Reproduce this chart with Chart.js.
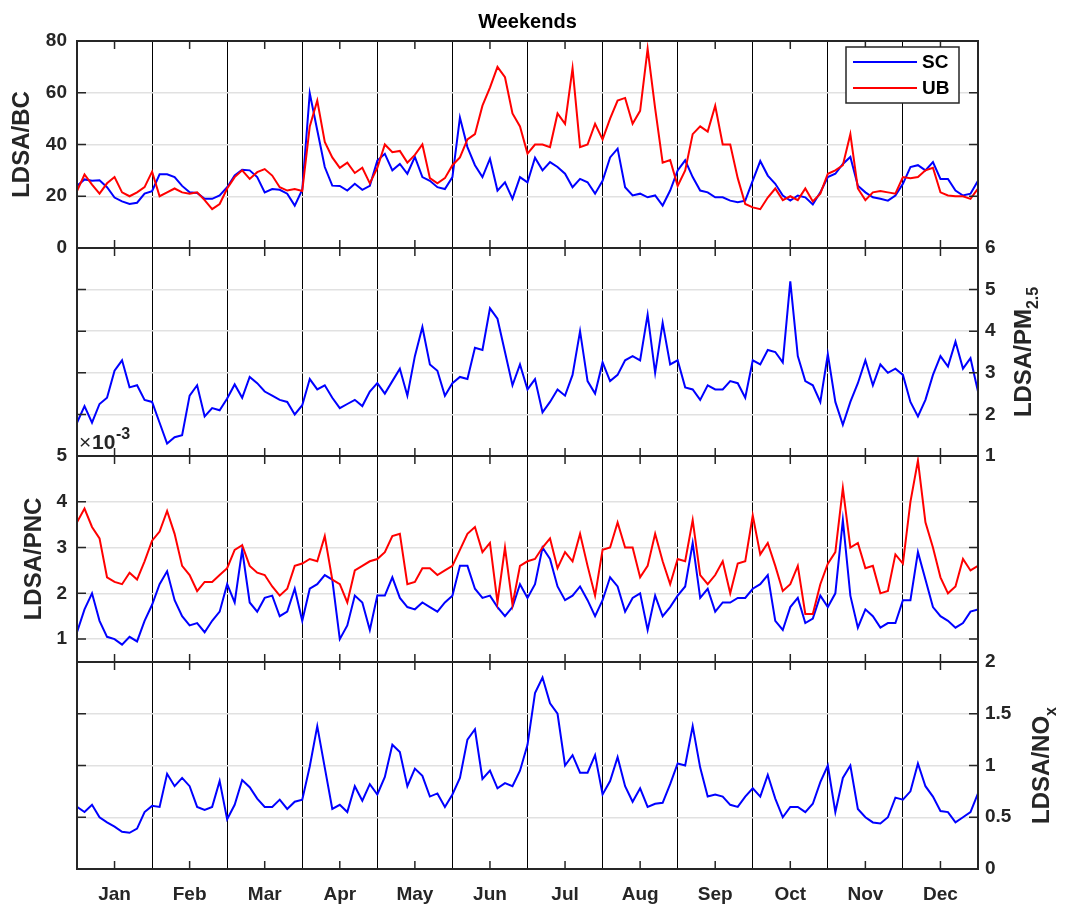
<!DOCTYPE html>
<html>
<head>
<meta charset="utf-8">
<script src="https://cdn.jsdelivr.net/npm/chart.js@4.4.1/dist/chart.umd.min.js"></script>
<style>
body{margin:0;background:#fff;}
#wrap{position:relative;width:1070px;height:908px;overflow:hidden;background:#fff;}
canvas{position:absolute;left:0;}
</style>
</head>
<body>
<div id="wrap">
<canvas id="p1" width="1055" height="278" style="top:0px"></canvas>
<canvas id="p2" width="1070" height="268" style="top:218px"></canvas>
<canvas id="p3" width="1070" height="266" style="top:426px"></canvas>
<canvas id="p4" width="1070" height="276" style="top:632px"></canvas>
</div>
<script>
(function () {

const FONT = "'Liberation Sans', Arial, Helvetica, sans-serif";
const INK = '#262626';

const months = ['Jan','Feb','Mar','Apr','May','Jun','Jul','Aug','Sep','Oct','Nov','Dec'];
const perMonth = 10; // samples per month, x runs 0..12 in month units

/* ---------- LDSA/BC ---------- */
const bcSC = [
  24, 26.5, 26, 26.2, 23.5, 19.5, 18, 17, 17.5, 21,
  22, 28.5, 28.5, 27.4, 24, 21.5, 21.3, 19, 19, 20.3,
  23.5, 28, 30.2, 30, 27.4, 21.5, 22.8, 22.5, 21, 16.4,
  22.5, 59.8, 45.5, 31.3, 24.1, 24, 22.2, 24.8, 22.5, 24,
  33.8, 36.4, 30, 32.5, 28.7, 35.2, 27.4, 26, 23.5, 22.8,
  27.4, 50.4, 39, 32, 27.4, 34.5, 22.2, 25.4, 19, 27.4,
  25.4, 34.9, 30, 33.2, 31.3, 28.7, 23.5, 26.7, 25.4, 21,
  26, 35, 38.4, 23.5, 20.3, 21, 19.6, 20.3, 16.4, 22.2,
  30, 33.9, 27.4, 22.2, 21.5, 19.6, 19.6, 18.3, 17.7, 18.3,
  26, 33.6, 28, 24.8, 20.3, 18.3, 20.3, 19.6, 16.8, 21.5,
  27.4, 28.7, 32.5, 35.2, 24.1, 21.5, 19.6, 19, 18.3, 20.3,
  24.8, 31.3, 32, 30, 33.2, 26.7, 26.7, 22.2, 20.3, 21, 26
];
const bcUB = [
  22, 28.4, 24.5, 21, 25, 27.4, 21.5, 20, 21.5, 23.5,
  29.5, 20, 21.5, 23, 21.5, 21, 21.5, 18.5, 15, 17,
  23, 27.4, 30, 26.7, 29.3, 30.5, 28, 23.5, 22.2, 22.8,
  22, 47, 57, 41, 35, 31, 33, 29, 31, 25,
  31, 40, 37, 37.5, 33, 36, 40, 27, 25, 27,
  32, 35, 42, 44, 55, 62, 70, 66, 52, 47,
  36.5, 40, 40, 39, 52, 48, 69.5, 39, 40, 48,
  42, 50, 57, 58, 48, 53, 77, 54, 33, 34,
  24, 30, 44, 47, 45, 55, 40, 40, 27, 17,
  15.7, 15, 19.5, 23, 18.5, 20, 18.5, 23, 18, 21,
  28.7, 30, 32, 44, 23, 18.5, 21.5, 22, 21.5, 21,
  27.4, 27, 27.4, 30, 31, 21.5, 20.3, 20, 20, 19, 23
];

/* ---------- LDSA/PM2.5 ---------- */
const pmSC = [
  1.8, 2.2, 1.8, 2.25, 2.4, 3.05, 3.3, 2.65, 2.7, 2.35,
  2.3, 1.8, 1.3, 1.45, 1.5, 2.45, 2.7, 1.95, 2.15, 2.1,
  2.38, 2.72, 2.4, 2.9, 2.75, 2.55, 2.45, 2.35, 2.3, 2.0,
  2.22, 2.85, 2.6, 2.7, 2.4, 2.15, 2.25, 2.35, 2.2, 2.55,
  2.75, 2.5, 2.8, 3.1, 2.45, 3.4, 4.1, 3.2, 3.05, 2.45,
  2.75, 2.9, 2.85, 3.6, 3.55, 4.55, 4.3, 3.5, 2.7, 3.2,
  2.6, 2.85, 2.05, 2.3, 2.6, 2.45, 2.95, 4.0, 2.8, 2.5,
  3.25, 2.8, 2.95, 3.3, 3.4, 3.3, 4.4, 3.0, 4.2, 3.2,
  3.3, 2.65, 2.6, 2.35, 2.7, 2.6, 2.6, 2.8, 2.75, 2.4,
  3.3, 3.2, 3.55, 3.5, 3.25, 5.2, 3.4, 2.8, 2.7, 2.3,
  3.45, 2.3, 1.75, 2.3, 2.75, 3.3, 2.7, 3.2, 3.0, 3.1,
  2.95, 2.3, 1.95, 2.35, 2.95, 3.4, 3.15, 3.75, 3.1, 3.35, 2.55
];

/* ---------- LDSA/PNC (x 10^-3) ---------- */
const pncSC = [
  1.15, 1.65, 2.0, 1.4, 1.05, 1.0, 0.88, 1.05, 0.95, 1.4,
  1.75, 2.2, 2.48, 1.85, 1.5, 1.3, 1.35, 1.15, 1.4, 1.6,
  2.2, 1.8, 2.95, 1.8, 1.6, 1.9, 1.95, 1.5, 1.6, 2.1,
  1.4, 2.1, 2.2, 2.4, 2.3, 1.0, 1.3, 1.95, 1.8, 1.2,
  1.95, 1.95, 2.35, 1.9, 1.7, 1.65, 1.8, 1.7, 1.6, 1.8,
  1.95, 2.6, 2.6, 2.1, 1.9, 1.95, 1.7, 1.5, 1.7, 2.2,
  1.9, 2.2, 3.0, 2.75, 2.15, 1.85, 1.95, 2.15, 1.85, 1.5,
  1.85, 2.35, 2.15, 1.6, 1.9, 2.0, 1.2, 1.95, 1.5, 1.7,
  1.95, 2.15, 3.1, 1.9, 2.1, 1.6, 1.8, 1.8, 1.9, 1.9,
  2.1, 2.2, 2.4, 1.4, 1.2, 1.7, 1.9, 1.35, 1.45, 1.95,
  1.7, 2.0, 3.6, 1.95, 1.25, 1.65, 1.5, 1.25, 1.35, 1.35,
  1.85, 1.85, 2.9, 2.3, 1.7, 1.5, 1.4, 1.25, 1.35, 1.6, 1.65
];
const pncUB = [
  3.55, 3.85, 3.45, 3.2, 2.35, 2.25, 2.2, 2.45, 2.3, 2.7,
  3.15, 3.35, 3.8, 3.3, 2.6, 2.4, 2.05, 2.25, 2.25, 2.4,
  2.55, 2.95, 3.05, 2.6, 2.45, 2.4, 2.15, 1.95, 2.1, 2.6,
  2.65, 2.75, 2.7, 3.25, 2.3, 2.2, 1.8, 2.5, 2.6, 2.7,
  2.75, 2.9, 3.25, 3.3, 2.2, 2.25, 2.55, 2.55, 2.4, 2.5,
  2.6, 2.95, 3.3, 3.45, 2.9, 3.1, 1.8, 3.0, 1.75, 2.6,
  2.7, 2.75, 3.0, 3.2, 2.55, 2.9, 2.7, 3.3, 2.6, 1.95,
  2.95, 3.0, 3.55, 3.0, 3.0, 2.35, 2.6, 3.3, 2.7, 2.2,
  2.75, 2.7, 3.6, 2.4, 2.2, 2.4, 2.7, 2.0, 2.65, 2.7,
  3.7, 2.85, 3.1, 2.6, 2.05, 2.2, 2.6, 1.55, 1.55, 2.2,
  2.65, 2.9, 4.3, 3.0, 3.1, 2.55, 2.6, 2.0, 2.05, 2.85,
  2.65, 4.0, 4.9, 3.55, 3.0, 2.35, 2.0, 2.15, 2.75, 2.5, 2.6
];

/* ---------- LDSA/NOx ---------- */
const noxSC = [
  0.6, 0.55, 0.62, 0.5, 0.45, 0.41, 0.36, 0.35, 0.39, 0.55,
  0.61, 0.6, 0.92, 0.8, 0.88, 0.8, 0.6, 0.57, 0.6, 0.85,
  0.48, 0.62, 0.86, 0.79, 0.68, 0.6, 0.6, 0.67, 0.58, 0.65,
  0.67, 0.99, 1.38, 0.98, 0.58, 0.62, 0.55, 0.8, 0.66, 0.82,
  0.72, 0.89, 1.2, 1.13, 0.8, 0.97, 0.9, 0.7, 0.73, 0.6,
  0.72, 0.88, 1.25, 1.35, 0.87, 0.95, 0.78, 0.83, 0.8, 0.95,
  1.2, 1.7, 1.85, 1.6, 1.5, 1.0, 1.1, 0.93, 0.93, 1.1,
  0.72, 0.85, 1.08, 0.8, 0.65, 0.78, 0.6, 0.63, 0.64, 0.82,
  1.02, 1.0, 1.38, 0.98, 0.7, 0.72, 0.7, 0.62, 0.6, 0.7,
  0.78, 0.7, 0.91, 0.68, 0.5, 0.6, 0.6, 0.55, 0.63, 0.84,
  1.0, 0.55, 0.88, 1.0, 0.58, 0.5, 0.45, 0.44, 0.5, 0.69,
  0.67, 0.75, 1.02, 0.8, 0.7, 0.56, 0.55, 0.45, 0.5, 0.55, 0.73
];

const bcTicks = [0, 20, 40, 60, 80];
const pmTicks = [1, 2, 3, 4, 5, 6];
const pncTicks = [1, 2, 3, 4, 5];
const noxTicks = [0, 0.5, 1, 1.5, 2];

const BLUE = '#0000ff';
const RED = '#ff0000';

function pts(arr) {
  return arr.map((v, i) => ({x: i / perMonth, y: v}));
}

function line(label, arr, color, order) {
  return {label, data: pts(arr), borderColor: color, backgroundColor: color,
    borderWidth: 2, pointRadius: 0, tension: 0, order};
}

/* ----------- frame, inner ticks, legend, extra labels ----------- */

function drawSubTitle(ctx, cx, cy, main, sub) {
  ctx.save();
  ctx.translate(cx, cy);
  ctx.rotate(-Math.PI / 2);
  ctx.font = 'bold 24px ' + FONT;
  const w1 = ctx.measureText(main).width;
  ctx.font = 'bold 16px ' + FONT;
  const w2 = ctx.measureText(sub).width;
  const x0 = -(w1 + w2) / 2;
  ctx.fillStyle = INK;
  ctx.textBaseline = 'middle';
  ctx.font = 'bold 24px ' + FONT;
  ctx.fillText(main, x0, 0);
  ctx.font = 'bold 16px ' + FONT;
  ctx.fillText(sub, x0 + w1, 10);
  ctx.restore();
}

const frameDeco = {
  id: 'frameDeco',
  afterDraw(chart, args, o) {
    const {ctx, chartArea: a, scales: {x, y}} = chart;
    ctx.save();

    /* inward tick marks */
    ctx.strokeStyle = INK;
    ctx.lineWidth = 1.5;
    ctx.beginPath();
    months.forEach((m, i) => {
      const px = x.getPixelForValue(i + 0.5);
      ctx.moveTo(px, a.bottom); ctx.lineTo(px, a.bottom - 8);
      ctx.moveTo(px, a.top); ctx.lineTo(px, a.top + 8);
    });
    y.ticks.forEach(t => {
      const py = y.getPixelForValue(t.value);
      ctx.moveTo(a.left, py); ctx.lineTo(a.left + 9, py);
      ctx.moveTo(a.right, py); ctx.lineTo(a.right - 9, py);
    });
    ctx.stroke();

    /* box */
    ctx.lineWidth = 2;
    ctx.strokeRect(a.left, a.top, a.right - a.left, a.bottom - a.top);

    /* legend */
    if (o.legend) {
      const bx = 846, by = a.top + 6, bw = 113, bh = 56;
      ctx.fillStyle = '#fff';
      ctx.fillRect(bx, by, bw, bh);
      ctx.lineWidth = 1.5;
      ctx.strokeStyle = INK;
      ctx.strokeRect(bx, by, bw, bh);
      ctx.font = 'bold 19px ' + FONT;
      ctx.textBaseline = 'middle';
      chart.data.datasets.forEach((ds, i) => {
        const ly = by + 15 + i * 26;
        ctx.strokeStyle = ds.borderColor;
        ctx.lineWidth = 2;
        ctx.beginPath();
        ctx.moveTo(bx + 7, ly); ctx.lineTo(bx + 71, ly);
        ctx.stroke();
        ctx.fillStyle = '#000';
        ctx.fillText(ds.label, bx + 76, ly + 1);
      });
    }

    /* exponent label */
    if (o.exponent) {
      ctx.fillStyle = INK;
      ctx.textBaseline = 'alphabetic';
      ctx.font = '21px ' + FONT;
      ctx.fillText('\u00d7', a.left + 2, a.top - 7);
      ctx.font = 'bold 21px ' + FONT;
      ctx.fillText('10', a.left + 15, a.top - 7);
      ctx.font = 'bold 16px ' + FONT;
      ctx.fillText('-3', a.left + 39, a.top - 17);
    }

    /* right-hand titles with subscripts */
    if (o.subTitle) {
      drawSubTitle(ctx, o.subTitle.x, (a.top + a.bottom) / 2, o.subTitle.main, o.subTitle.sub);
    }

    ctx.restore();
  }
};

/* ----------- panel builder ----------- */

function panel(id, cfg) {
  const left = cfg.side === 'left';
  const canvas = document.getElementById(id);
  const xTicks = [];
  for (let i = 1; i < 24; i++) xTicks.push(i / 2);

  return new Chart(canvas.getContext('2d'), {
    type: 'line',
    data: {datasets: cfg.datasets},
    options: {
      responsive: false,
      animation: false,
      devicePixelRatio: 1,
      layout: {padding: {
        top: cfg.padTop,
        left: left ? 0 : 77,
        right: left ? canvas.width - 978 : 0,
        bottom: 0
      }},
      plugins: {
        legend: {display: false},
        tooltip: {enabled: false},
        title: cfg.title ? {
          display: true, text: cfg.title, fullSize: false, color: '#000',
          font: {family: FONT, size: 20, weight: 'bold'},
          padding: {top: 10, bottom: 7}
        } : {display: false},
        frameDeco: cfg.deco || {}
      },
      scales: {
        x: {
          type: 'linear', min: 0, max: 12,
          afterBuildTicks(s) { s.ticks = xTicks.map(v => ({value: v})); },
          afterFit(s) { s.height = cfg.xh; },
          border: {display: false},
          grid: {
            drawTicks: false, lineWidth: 1,
            color: c => (c.tick && Number.isInteger(c.tick.value)) ? '#000' : 'rgba(0,0,0,0)'
          },
          ticks: {
            display: !!cfg.showMonths, autoSkip: false, maxRotation: 0, padding: 14,
            color: INK, font: {family: FONT, size: 19, weight: 'bold'},
            callback: v => Number.isInteger(v) ? '' : months[Math.floor(v)]
          }
        },
        y: {
          position: cfg.side,
          min: cfg.min, max: cfg.max,
          afterBuildTicks(s) { s.ticks = cfg.ticks.map(v => ({value: v})); },
          afterFit(s) { s.width = left ? 77 : 92; },
          border: {display: false},
          grid: {color: '#e1e1e1', lineWidth: 1.5, drawTicks: false},
          ticks: {
            padding: left ? 10 : 7, color: INK,
            font: {family: FONT, size: 19, weight: 'bold'},
            callback: v => String(v)
          },
          title: cfg.yTitle ? {
            display: true, text: cfg.yTitle, color: INK,
            font: {family: FONT, size: 24, weight: 'bold'},
            padding: {top: cfg.yTitlePad, bottom: 0}
          } : {display: false}
        }
      }
    },
    plugins: [frameDeco]
  });
}

panel('p1', {
  side: 'left', padTop: 0, xh: 30, title: 'Weekends',
  min: 0, max: 80, ticks: bcTicks, yTitle: 'LDSA/BC', yTitlePad: 8,
  datasets: [line('SC', bcSC, BLUE, 1), line('UB', bcUB, RED, 0)],
  deco: {legend: true}
});

panel('p2', {
  side: 'right', padTop: 30, xh: 30,
  min: 1, max: 6, ticks: pmTicks,
  datasets: [line('SC', pmSC, BLUE, 1)],
  deco: {subTitle: {x: 1024, main: 'LDSA/PM', sub: '2.5'}}
});

panel('p3', {
  side: 'left', padTop: 30, xh: 30,
  min: 0.5, max: 5, ticks: pncTicks, yTitle: 'LDSA/PNC', yTitlePad: 20,
  datasets: [line('SC', pncSC, BLUE, 1), line('UB', pncUB, RED, 0)],
  deco: {exponent: true}
});

panel('p4', {
  side: 'right', padTop: 30, xh: 39, showMonths: true,
  min: 0, max: 2, ticks: noxTicks,
  datasets: [line('SC', noxSC, BLUE, 1)],
  deco: {subTitle: {x: 1042, main: 'LDSA/NO', sub: 'x'}}
});

})();
</script>
</body>
</html>
